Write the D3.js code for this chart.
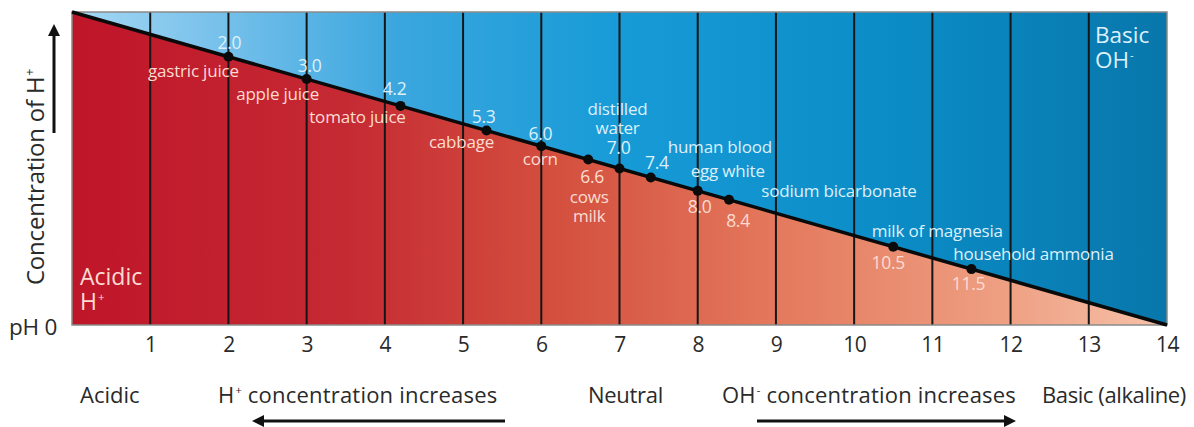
<!DOCTYPE html>
<html>
<head>
<meta charset="utf-8">
<script src="https://cdn.jsdelivr.net/npm/d3@7"></script>
<style>
  body { margin: 0; background: #fff; }
  svg { font-family: "Open Sans", "Noto Sans", sans-serif; }
</style>
</head>
<body>
<svg id="chart" width="1194" height="427"></svg>
<script>
// pH scale ticks
const phTicks = [1, 2, 3, 4, 5, 6, 7, 8, 9, 10, 11, 12, 13, 14];

// substances along the line
const substancePh = [2.0, 3.0, 4.2, 5.3, 6.0, 6.6, 7.0, 7.4, 8.0, 8.4, 10.5, 11.5];
const substanceNames = [
  ["gastric juice"], ["apple juice"], ["tomato juice"], ["cabbage"], ["corn"],
  ["cows", "milk"], ["distilled", "water"], ["human blood"], ["egg white"],
  ["sodium bicarbonate"], ["milk of magnesia"], ["household ammonia"]
];
const valueText = ["2.0", "3.0", "4.2", "5.3", "6.0", "6.6", "7.0", "7.4", "8.0", "8.4", "10.5", "11.5"];

// bottom captions
const captions = ["Acidic", "Neutral", "Basic (alkaline)"];

// label layout (pixel offsets from each dot)
const valueOffset = [[1, -8], [3, -7], [-6, -11], [-3, -7], [-1, -6], [4, 23], [-1, -15], [6, -8], [2, 22], [9, 27], [-5, 22], [-3, 21]];
const nameOffset = [[-35, 20], [-29, 21], [-43, 17], [-25, 18], [-1, 19], [1, 43], [-2, -54], [69, -24], [30, -14], [110, -3], [44, -10], [62, -9]];

const margin = { top: 12, right: 27, bottom: 102, left: 72 };
const winWidth = 1194;
const winHeight = 427;
const width = winWidth - margin.left - margin.right;
const height = winHeight - margin.top - margin.bottom;

const x = d3.scaleLinear().domain([0, 14]).range([0, width]);
// concentration of H+ falls as pH rises: same 0..14 units, top to bottom
const y = d3.scaleLinear().domain([0, 14]).range([0, height]);

const svg = d3.select("#chart");
const defs = svg.append("defs");

const redGrad = defs.append("linearGradient").attr("id", "redGrad");
[[0, "#bf1529"], [0.25, "#c52a33"], [0.45, "#d4513f"], [0.65, "#e47a5e"], [0.85, "#ee9f82"], [1, "#f6c2a9"]]
  .forEach(s => redGrad.append("stop").attr("offset", s[0]).attr("stop-color", s[1]));

const blueGrad = defs.append("linearGradient").attr("id", "blueGrad");
[[0, "#a5d8f4"], [0.12, "#7cc3ec"], [0.3, "#3aa6de"], [0.5, "#179bd7"], [0.75, "#0b8cc6"], [1, "#0877ab"]]
  .forEach(s => blueGrad.append("stop").attr("offset", s[0]).attr("stop-color", s[1]));

const g = svg.append("g").attr("transform", `translate(${margin.left},${margin.top})`);

// blue (OH-) region above the line
g.append("path")
  .attr("d", `M${x(0)},${y(0)}L${x(14)},${y(0)}L${x(14)},${y(14)}Z`)
  .attr("fill", "url(#blueGrad)");

// red (H+) region below the line
g.append("path")
  .attr("d", `M${x(0)},${y(0)}L${x(14)},${y(14)}L${x(0)},${y(14)}Z`)
  .attr("fill", "url(#redGrad)");

// vertical grid lines
g.selectAll(".grid")
  .data(phTicks.slice(0, -1))
  .join("line")
  .attr("x1", d => x(d)).attr("x2", d => x(d))
  .attr("y1", 0).attr("y2", height)
  .attr("stroke", "#161616").attr("stroke-width", 2);

// frame
g.append("rect")
  .attr("width", width).attr("height", height)
  .attr("fill", "none").attr("stroke", "#8a8a8a").attr("stroke-width", 1.5);

// diagonal line
const line = d3.line().x(d => x(d)).y(d => y(d));
g.append("path").datum([0, 14]).attr("d", line)
  .attr("stroke", "#0a0a0a").attr("stroke-width", 3.5).attr("fill", "none");

// dots
g.selectAll(".dot")
  .data(substancePh)
  .join("circle")
  .attr("cx", d => x(d)).attr("cy", d => y(d)).attr("r", 5)
  .attr("fill", "#0a0a0a");

const blueText = "#dcf0fb";
const redText = "#fcdcd2";

// value labels
g.selectAll(".val")
  .data(substancePh)
  .join("text")
  .attr("x", (d, i) => x(d) + valueOffset[i][0])
  .attr("y", (d, i) => y(d) + valueOffset[i][1])
  .attr("text-anchor", "middle")
  .attr("font-size", 17.5)
  .attr("letter-spacing", -0.3)
  .attr("fill", (d, i) => valueOffset[i][1] < 0 ? blueText : redText)
  .text((d, i) => valueText[i]);

// substance names, one text per line
substancePh.forEach((d, i) => {
  substanceNames[i].forEach((s, j) => {
    g.append("text")
      .attr("x", x(d) + nameOffset[i][0])
      .attr("y", y(d) + nameOffset[i][1] + j * 19)
      .attr("text-anchor", "middle")
      .attr("font-size", 17)
      .attr("letter-spacing", -0.2)
      .attr("fill", nameOffset[i][1] < 0 ? blueText : redText)
      .text(s);
  });
});

// text with a small raised sign (H+, OH-)
function supText(parent, xPos, yPos, size, fill, base, sup, rest, ls) {
  const t = parent.append("text").attr("x", xPos).attr("y", yPos)
    .attr("font-size", size).attr("fill", fill).attr("letter-spacing", ls || 0);
  t.append("tspan").text(base);
  t.append("tspan").attr("font-size", size * 0.5).attr("dx", 1).attr("dy", -size * 0.4).text(sup);
  if (rest) t.append("tspan").attr("dy", size * 0.4).text(rest);
  return t;
}

// corner labels
g.append("text").attr("x", 8).attr("y", 273).attr("font-size", 23).attr("fill", redText).text("Acidic");
supText(g, 8, 298, 23, redText, "H", "+");
g.append("text").attr("x", 1023).attr("y", 31).attr("font-size", 22.5).attr("fill", blueText).text("Basic");
supText(g, 1023, 56, 22.5, blueText, "OH", "-");

// x axis tick labels
const xAxis = d3.axisBottom(x).tickValues(phTicks).tickSize(0).tickPadding(12);
const ax = g.append("g").attr("transform", `translate(0,${height})`).call(xAxis);
ax.select(".domain").remove();
ax.selectAll("text").attr("font-size", 21).attr("fill", "#2a2a2a")
  .attr("font-family", "'Open Sans', sans-serif").attr("letter-spacing", -0.5);

svg.append("text").attr("x", 9).attr("y", 335)
  .attr("font-size", 22.5).attr("fill", "#2a2a2a").attr("letter-spacing", -0.2).text("pH 0");

// y axis title
supText(svg, 0, 0, 24, "#2a2a2a", "Concentration of  H", "+", null, -0.2)
  .attr("transform", "translate(44,177) rotate(-90)")
  .attr("text-anchor", "middle");

// arrows
defs.append("marker").attr("id", "head").attr("viewBox", "0 0 10 10")
  .attr("refX", 5).attr("refY", 5).attr("markerWidth", 4).attr("markerHeight", 4)
  .attr("orient", "auto")
  .append("path").attr("d", "M0,0L10,5L0,10Z").attr("fill", "#111");

svg.append("line").attr("x1", 54).attr("x2", 54).attr("y1", 133).attr("y2", 30)
  .attr("stroke", "#111").attr("stroke-width", 3).attr("marker-end", "url(#head)");

// bottom captions
const capY = 403;
const capSize = 22;
const caption = (xPos, txt, ls) => svg.append("text").attr("x", xPos).attr("y", capY)
  .attr("font-size", capSize).attr("fill", "#2a2a2a").attr("letter-spacing", ls).text(txt);
caption(80, captions[0], 0);
caption(588, captions[1], -0.3);
caption(1042, captions[2], -0.4);
supText(svg, 218, capY, capSize, "#2a2a2a", "H", "+", " concentration increases", 0.2);
supText(svg, 722, capY, capSize, "#2a2a2a", "OH", "-", " concentration increases", 0.2);

svg.append("line").attr("x1", 505).attr("x2", 258).attr("y1", 421).attr("y2", 421)
  .attr("stroke", "#111").attr("stroke-width", 3).attr("marker-end", "url(#head)");
svg.append("line").attr("x1", 757).attr("x2", 1010).attr("y1", 421).attr("y2", 421)
  .attr("stroke", "#111").attr("stroke-width", 3).attr("marker-end", "url(#head)");
</script>
</body>
</html>
